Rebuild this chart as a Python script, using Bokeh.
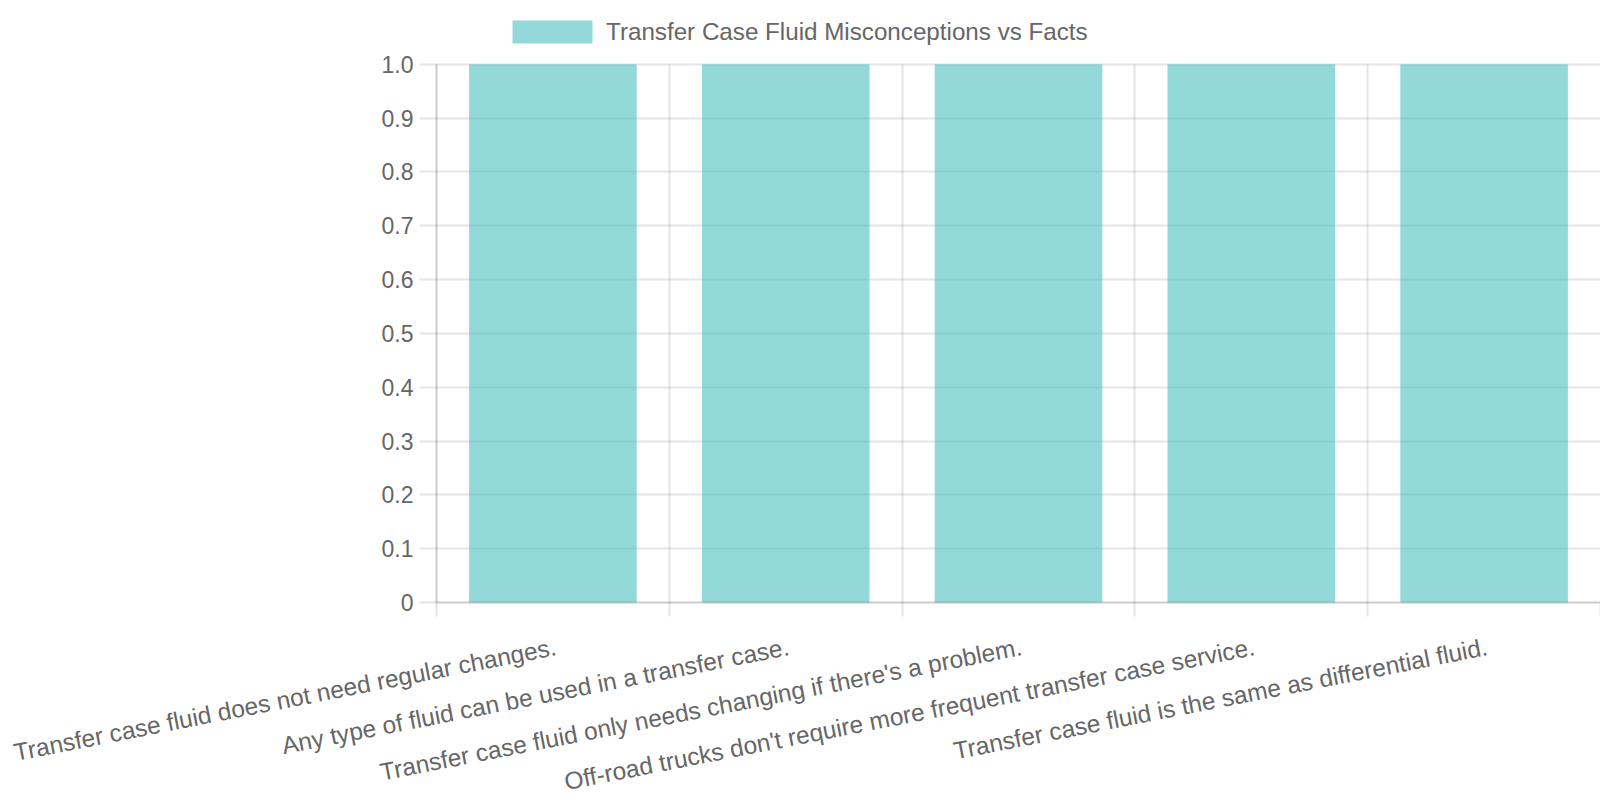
import numpy as np
from bokeh.plotting import figure
from bokeh.models import (Range1d, FixedTicker, Legend, LegendItem, ColumnDataSource)
from bokeh.core.properties import value
from bokeh.embed import file_html
from bokeh.resources import INLINE

categories = [
    "Transfer case fluid does not need regular changes.",
    "Any type of fluid can be used in a transfer case.",
    "Transfer case fluid only needs changing if there's a problem.",
    "Off-road trucks don't require more frequent transfer case service.",
    "Transfer case fluid is the same as differential fluid.",
]
values = [1, 1, 1, 1, 1]
series_name = "Transfer Case Fluid Misconceptions vs Facts"
y_ticks = [0, 0.1, 0.2, 0.3, 0.4, 0.5, 0.6, 0.7, 0.8, 0.9, 1.0]
y_tick_labels = ["0", "0.1", "0.2", "0.3", "0.4", "0.5", "0.6", "0.7", "0.8", "0.9", "1.0"]
y_max = 1.0

n = len(categories)
centers = [i + 0.5 for i in range(n)]
bounds = list(range(n + 1))

FONT = "Liberation Sans"
TXT = "#666666"
GRID = "rgba(0,0,0,0.1)"

# layout (screen px): the frame covers the whole canvas, the plot area is inside it
W, H = 1600, 800
LEFT = 436          # plot area left edge
BOTTOM = 602        # y = 0 line
TOP = 63.7          # y = y_max line
px_x = (W - LEFT) / n
px_y = (BOTTOM - TOP) / y_max
x_range = Range1d(-LEFT / px_x, n)
y_range = Range1d(-(H - BOTTOM) / px_y, y_max + TOP / px_y)

p = figure(width=W, height=H, output_backend="svg", toolbar_location=None,
           x_range=x_range, y_range=y_range, min_border=0)
p.outline_line_color = None
p.background_fill_color = "white"

src = ColumnDataSource(dict(x=centers, top=values, label=categories))
r = p.vbar(x="x", top="top", width=0.72, bottom=0, source=src,
           fill_color="rgba(75,192,192,0.6)", line_color=None)

# grids limited to the plot area
p.xgrid.ticker = FixedTicker(ticks=bounds)
p.xgrid.grid_line_color = GRID
p.xgrid.grid_line_width = 2
p.ygrid.ticker = FixedTicker(ticks=y_ticks)
p.ygrid.grid_line_color = GRID
p.ygrid.grid_line_width = 2
if "cross_bounds" in p.xgrid.properties():
    p.xgrid.cross_bounds = (0, y_max)
    p.ygrid.cross_bounds = (0, n)

# x axis at y = 0 (tick marks at category boundaries, labels drawn below)
p.xaxis.fixed_location = 0
p.xaxis.bounds = (0, n)
p.xaxis.ticker = FixedTicker(ticks=centers, minor_ticks=bounds)
p.xaxis.major_label_overrides = {c: "" for c in centers}
p.xaxis.major_label_text_font_size = "0px"
p.xaxis.major_label_standoff = 0
p.xaxis.major_tick_out = 0
p.xaxis.major_tick_in = 0
p.xaxis.minor_tick_out = 14
p.xaxis.minor_tick_in = 0
p.xaxis.minor_tick_line_color = GRID
p.xaxis.minor_tick_line_width = 2
p.xaxis.axis_line_color = GRID
p.xaxis.axis_line_width = 2

# y axis at x = 0
p.yaxis.fixed_location = 0
p.yaxis.ticker = FixedTicker(ticks=y_ticks)
p.yaxis.bounds = (0, y_max)
p.yaxis.major_label_overrides = {t: l for t, l in zip(y_ticks, y_tick_labels)}
p.yaxis.major_tick_out = 17
p.yaxis.major_tick_in = 0
p.yaxis.major_tick_line_color = GRID
p.yaxis.major_tick_line_width = 2
p.yaxis.minor_tick_line_color = None
p.yaxis.axis_line_color = GRID
p.yaxis.axis_line_width = 2
p.yaxis.major_label_text_font = FONT
p.yaxis.major_label_text_font_size = "23px"
p.yaxis.major_label_text_color = TXT
p.yaxis.major_label_standoff = 6

# rotated category labels, right end at each category centre
LABEL_DROP = 44     # px from the zero line to the label baseline end
lab_src = ColumnDataSource(dict(x=centers, y=[-LABEL_DROP / px_y] * n, text=categories))
p.text(x="x", y="y", text="text", source=lab_src, angle=np.deg2rad(11.1),
       x_offset=3, text_align="right", text_baseline="alphabetic",
       text_font=value(FONT), text_font_size="24.5px", text_color=TXT)

legend = Legend(items=[LegendItem(label=series_name, renderers=[r])],
                location=(502, H - 17 - 29), orientation="horizontal",
                glyph_width=100, glyph_height=29, label_standoff=4,
                padding=0, margin=0, border_line_color=None,
                background_fill_alpha=0,
                label_text_font=FONT, label_text_font_size="24.2px",
                label_text_color=TXT, label_height=29)
p.add_layout(legend, "center")

open("out.html", "w").write(file_html(p, INLINE))
